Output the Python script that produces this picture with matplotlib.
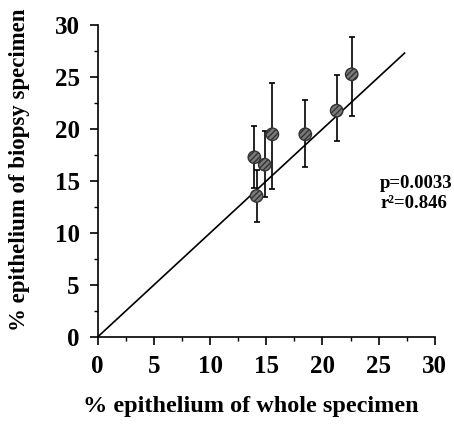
import matplotlib
matplotlib.use("Agg")
import matplotlib.pyplot as plt
import numpy as np
from matplotlib.ticker import MultipleLocator

# data
whole = [13.94, 14.14, 14.86, 15.54, 18.47, 21.26, 22.6]
biopsy = [17.28, 13.56, 16.57, 19.49, 19.49, 21.76, 25.26]
err_low = [3.0, 2.5, 3.1, 5.3, 3.1, 2.9, 4.0]
err_high = [3.0, 2.5, 3.2, 4.9, 3.3, 3.4, 3.6]
line_x = [0, 27.3]
line_y = [0, 27.3]
ticks = [0, 5, 10, 15, 20, 25, 30]

plt.rcParams['font.family'] = ['Liberation Serif', 'DejaVu Serif']
plt.rcParams['font.weight'] = 'bold'

fig = plt.figure(figsize=(4.54, 4.28), dpi=100)
ax = fig.add_axes([0.215, 0.2126, 0.743, 0.729])

ax.plot(line_x, line_y, color='black', lw=1.2, zorder=2)
ax.errorbar(whole, biopsy, yerr=[err_low, err_high], fmt='none', ecolor='black',
            elinewidth=1.2, capsize=2.5, capthick=1.2, zorder=3)
ax.scatter(whole, biopsy, s=80, facecolor='#7a7a7a', edgecolor='#333333',
           linewidths=1.0, hatch='//////', zorder=4)

ax.set_xlim(0, 30)
ax.set_ylim(0, 30)
ax.set_xticks(ticks)
ax.set_yticks(ticks)
ax.xaxis.set_minor_locator(MultipleLocator(2.5))
ax.yaxis.set_minor_locator(MultipleLocator(2.5))
ax.tick_params(which='major', direction='out', length=6, width=1.2, labelsize=18, pad=7)
ax.tick_params(which='minor', direction='out', length=3, width=1.0)
for lab in ax.get_xticklabels() + ax.get_yticklabels():
    lab.set_fontweight('bold')
ax.spines['top'].set_visible(False)
ax.spines['right'].set_visible(False)
ax.spines['left'].set_linewidth(1.2)
ax.spines['bottom'].set_linewidth(1.2)

ax.set_xlabel('% epithelium of whole specimen', fontsize=17.5, fontweight='bold')
ax.set_ylabel('% epithelium of biopsy specimen', fontsize=16.5, fontweight='bold')
ax.xaxis.set_label_coords(0.455, -0.19)
ax.yaxis.set_label_coords(-0.2, 0.535)

fig.text(0.837, 0.572, 'p=0.0033', fontsize=13.5, fontweight='bold', va='center', ha='left')
fig.text(0.837, 0.525, 'r\u00b2=0.846', fontsize=13.5, fontweight='bold', va='center', ha='left')

fig.savefig('out.png', dpi=100)
